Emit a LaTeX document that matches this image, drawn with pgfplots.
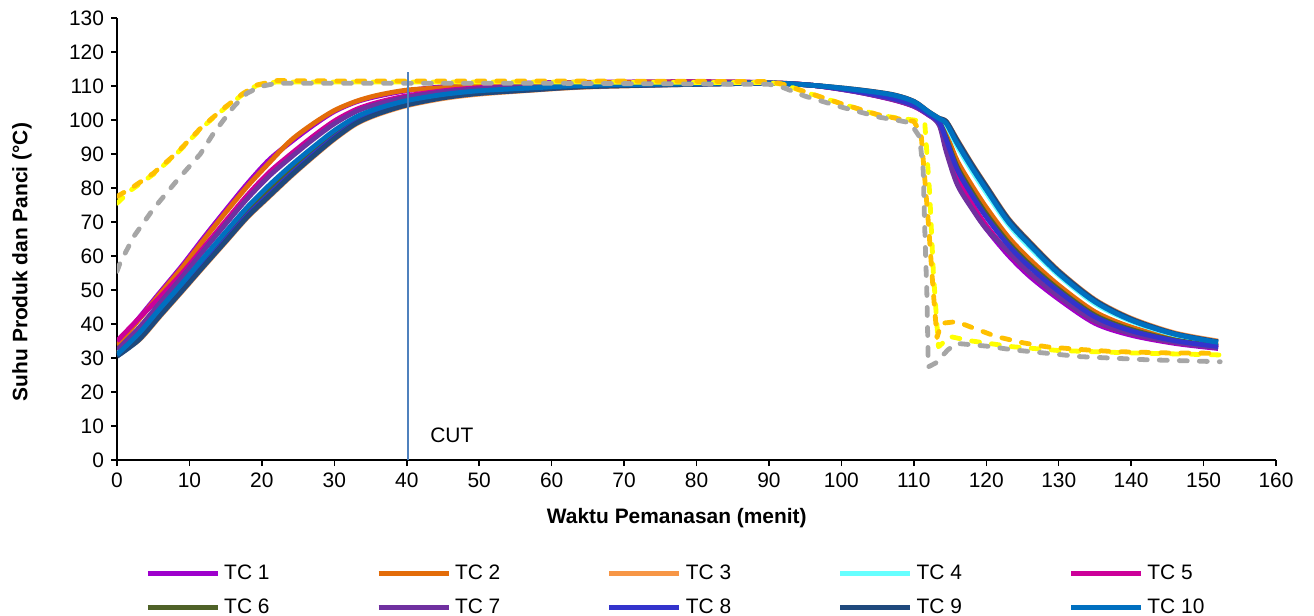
\documentclass[border=0pt]{standalone}
\usepackage{pgfplots}
\pgfplotsset{compat=1.18}
\usepackage{pgfplotstable}
\usepackage{fontspec}
\setmainfont{Liberation Sans}
\definecolor{c1}{HTML}{9E00CC}
\definecolor{c2}{HTML}{E36C09}
\definecolor{c3}{HTML}{F79646}
\definecolor{c4}{HTML}{66FFFF}
\definecolor{c5}{HTML}{CC0099}
\definecolor{c6}{HTML}{4F6228}
\definecolor{c7}{HTML}{7030A0}
\definecolor{c8}{HTML}{3333CC}
\definecolor{c9}{HTML}{1F497D}
\definecolor{c10}{HTML}{0070C0}
\definecolor{cy}{HTML}{FFFF00}
\definecolor{cg}{HTML}{FFC000}
\definecolor{cgr}{HTML}{A6A6A6}
\definecolor{ccut}{HTML}{4F81BD}
\pgfplotstableread{
t tc1 tc2 tc3 tc4 tc5 tc6 tc7 tc8 tc9 tc10
0 34.0 33.7 31.5 31.4 35.0 31.0 32.4 30.7 30.5 31.0
3 41.7 41.2 35.2 36.9 41.6 36.3 38.8 35.6 35.3 37.2
6 49.5 49.0 42.4 44.3 48.1 43.6 46.4 42.9 42.6 44.7
9 57.2 56.6 49.6 51.7 55.0 50.9 53.9 50.2 49.8 52.0
12 65.5 64.8 56.9 59.2 62.6 58.4 61.7 57.5 57.1 59.6
15 73.5 72.8 64.1 66.6 70.3 65.7 69.4 64.8 64.3 67.1
18 81.3 80.5 71.3 74.0 77.9 73.0 76.9 72.0 71.5 74.4
21 88.3 87.4 77.4 80.3 84.6 79.2 83.5 78.1 77.6 80.8
24 93.5 94.0 83.4 86.1 90.0 85.1 89.0 84.1 83.6 86.6
27 98.3 98.8 89.0 91.5 95.1 90.6 94.2 89.7 89.2 91.9
30 102.5 102.8 94.3 96.5 99.7 95.7 98.9 94.9 94.5 96.9
33 105.3 105.5 98.8 100.6 103.1 99.9 102.5 99.3 99.0 100.9
36 107.0 107.3 101.6 103.1 105.2 102.6 104.7 102.1 101.8 103.4
40 108.6 108.8 104.2 105.5 107.1 105.0 106.7 104.6 104.4 105.7
45 109.8 109.5 106.3 107.3 108.6 107.0 108.3 106.7 106.5 107.5
50 110.4 110.2 107.6 108.5 109.5 108.2 109.2 107.9 107.8 108.6
57 110.9 110.7 108.7 109.3 110.2 109.1 110.0 108.9 108.8 109.4
65 111.1 111.0 109.7 110.1 110.6 110.0 110.5 109.9 109.8 110.2
80 111.3 111.2 110.5 110.7 111.0 110.6 110.9 110.5 110.5 110.7
90 111.0 111.0 110.8 110.9 110.9 110.8 110.9 110.8 110.8 110.9
96 110.2 110.2 110.2 110.2 110.2 110.2 110.2 110.2 110.2 110.2
102 108.3 108.7 109.0 108.9 108.4 108.5 108.3 108.5 109.0 108.9
107 106.0 106.8 107.5 107.3 106.1 106.5 106.1 106.4 107.5 107.4
110 104.0 104.8 105.5 105.3 104.1 104.5 104.1 104.4 105.5 105.4
112 101.5 102.0 102.5 102.4 101.6 101.9 101.6 101.8 102.5 102.4
113.5 99.0 99.8 100.5 100.3 99.1 99.5 98.5 99.4 100.5 100.4
114.5 92.0 95.8 99.5 98.4 92.6 94.6 90.5 94.1 99.5 98.9
116 82.0 88.0 94.2 92.2 83.0 86.2 81.0 85.4 94.0 93.0
118 74.5 80.8 87.2 85.1 75.5 78.9 74.0 78.0 87.0 86.0
120 68.0 74.3 80.7 78.6 69.0 72.4 68.0 71.5 80.5 79.5
123 60.3 65.7 71.2 69.4 61.2 64.1 61.4 63.3 71.0 70.1
126 54.0 59.0 64.2 62.5 54.8 57.5 55.0 56.8 64.0 63.2
130 47.3 51.4 55.7 54.3 48.0 50.2 48.1 49.6 55.5 54.8
135 40.2 43.6 47.2 46.0 40.7 42.6 40.9 42.1 47.0 46.5
140 36.7 39.1 41.7 40.8 37.1 38.4 37.2 38.0 41.5 41.1
146 34.3 35.8 37.4 36.8 34.5 35.3 34.6 35.1 37.2 37.0
152 32.8 33.8 35.0 34.5 33.0 33.5 33.0 33.4 34.8 34.6
}\tc
\pgfplotstableread{
t y
0 75.5
2 79.5
5 84
8.2 90
11.5 97.3
13 100.1
15 103.7
17.4 107.6
19.3 110.2
22 111.2
30 111.2
60 111.2
90 111
92 110.5
95 108.2
100 104.8
105 101.5
108 100.5
110 100
111.5 99.5
112.2 78
112.7 55
113.4 33.3
115 36.3
118 35
123.7 33.3
130 32.2
140 31.5
152.3 30.9
}\pyel
\pgfplotstableread{
t y
0 77.5
2 80
5 84.3
8.2 90.2
11.5 97.5
13 100.3
15 103.9
17.4 107.8
19.3 110.3
22 111.6
30 111.5
60 111.5
90 111.3
92 110.5
95 108.3
100 104.8
105 101.6
108 100.3
110 99.6
111 96
112 70
112.7 49
113.2 36
113.8 40.2
115.9 40.7
118 39
121.4 36.3
125 34.5
128.3 33.3
133 32.5
137.5 31.9
145 31.5
152.3 31.4
}\pgold
\pgfplotstableread{
t y
0 55.5
0.4 57.8
2.3 65.7
5 73.8
8.2 82
11.5 90
13.3 96
16.1 103.9
17.9 107.8
19.7 109.8
22 110.8
30 110.8
60 110.8
90 110.5
92 109.5
95 107
100 103.8
105.3 100.8
108 99.8
109.5 99.2
110.8 95
111.3 85
111.5 68.6
111.8 49
112 27.4
113 28.5
114.7 32.4
115.9 34.3
120 33.5
123.7 32.4
133 30.4
142 29.5
152.3 28.9
}\pgray
\newcommand\lent[1]{\makebox[78bp][l]{\hspace*{2bp}#1}}
\begin{document}
\begin{tikzpicture}[x=1bp,y=1bp]
\useasboundingbox (-58.5,-77.5) rectangle (598.5,230);
\begin{axis}[
  at={(0,0)}, anchor=south west,
  scale only axis, width=579.5bp, height=221bp,
  xmin=0, xmax=160, ymin=0, ymax=130,
  xtick={0,10,...,160}, ytick={0,10,...,130},
  axis x line*=bottom, axis y line*=left,
  axis line style={-, line width=0.75bp, black},
  tick align=outside, major tick length=3bp,
  tick style={line width=0.75bp, black},
  /pgf/number format/assume math mode=true,
  tick label style={font=\fontsize{10.5}{12}\selectfont},
  label style={font=\bfseries\fontsize{10.5}{12}\selectfont},
  xlabel={Waktu Pemanasan (menit)},
  ylabel={Suhu Produk dan Panci (°C)},
  xlabel style={at={(axis description cs:0.483,-0.131)}, anchor=center},
  ylabel style={at={(axis description cs:-0.082,0.448)}, anchor=center},
  legend columns=5,
  legend cell align=left,
  legend style={at={(0.0242,-0.2353)}, anchor=north west, draw=none, fill=none,
    inner sep=0pt, font=\fontsize{10.5}{12}\selectfont,
    nodes={inner sep=0pt}, /tikz/row sep=8.5bp},
  legend image code/.code={\draw[#1] (0bp,0bp) -- (35bp,0bp);},
  every axis plot/.append style={line join=round},
  tc/.style={line width=2.4bp, no markers, smooth, tension=0.5},
  pn/.style={line width=2.4bp, no markers, line cap=round, dash pattern=on 4bp off 6bp},
]
\addplot[tc, c1] table[x=t, y=tc1] {\tc};
\addplot[tc, c2] table[x=t, y=tc2] {\tc};
\addplot[tc, c3] table[x=t, y=tc3] {\tc};
\addplot[tc, c4] table[x=t, y=tc4] {\tc};
\addplot[tc, c5] table[x=t, y=tc5] {\tc};
\addplot[tc, c6] table[x=t, y=tc6] {\tc};
\addplot[tc, c7] table[x=t, y=tc7] {\tc};
\addplot[tc, c8] table[x=t, y=tc8] {\tc};
\addplot[tc, c9] table[x=t, y=tc9] {\tc};
\addplot[tc, c10] table[x=t, y=tc10] {\tc};
\legend{\lent{TC 1},\lent{TC 2},\lent{TC 3},\lent{TC 4},\lent{TC 5},\lent{TC 6},\lent{TC 7},\lent{TC 8},\lent{TC 9},\lent{TC 10}}
\addplot[pn, cy, forget plot] table[x=t, y=y] {\pyel};
\addplot[pn, cg, forget plot] table[x=t, y=y] {\pgold};
\addplot[pn, cgr, forget plot] table[x=t, y=y] {\pgray};
\addplot[ccut, line width=1bp, no markers, forget plot] coordinates {(40.2,0) (40.2,114)};
\node[anchor=west, font=\fontsize{10.5}{12}\selectfont, inner sep=0pt] at (axis cs:43.2,7.4) {CUT};
\end{axis}
\end{tikzpicture}
\end{document}
